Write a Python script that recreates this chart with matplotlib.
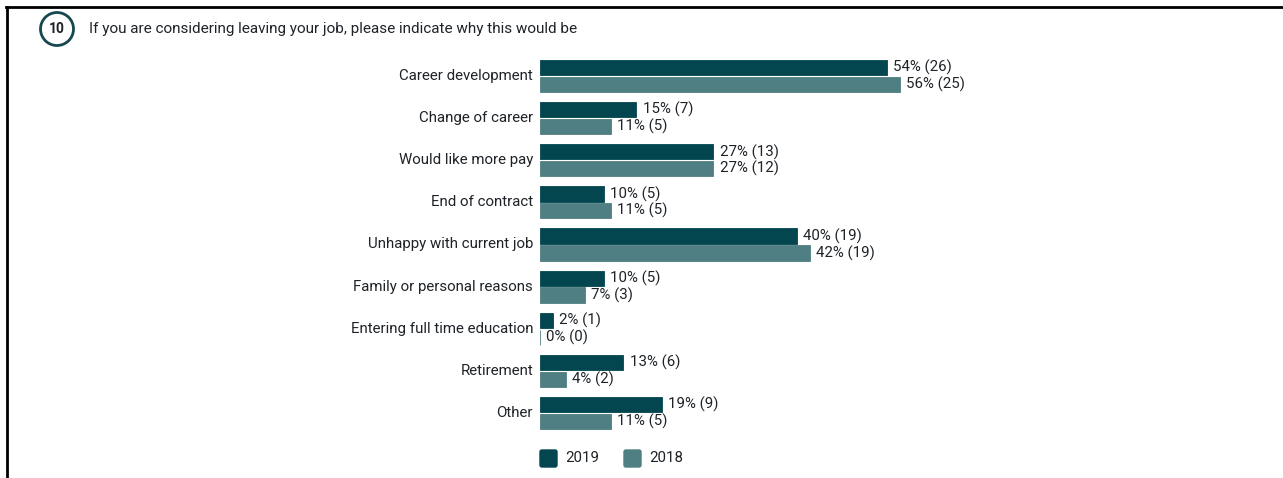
import matplotlib
matplotlib.use("Agg")
import matplotlib.pyplot as plt
from matplotlib.patches import Ellipse, FancyBboxPatch
import numpy as np

plt.rcParams['font.family'] = ['Roboto', 'DejaVu Sans']

categories = [
    "Career development",
    "Change of career",
    "Would like more pay",
    "End of contract",
    "Unhappy with current job",
    "Family or personal reasons",
    "Entering full time education",
    "Retirement",
    "Other",
]
pct_2019 = [54, 15, 27, 10, 40, 10, 2, 13, 19]
n_2019 = [26, 7, 13, 5, 19, 5, 1, 6, 9]
pct_2018 = [56, 11, 27, 11, 42, 7, 0, 4, 11]
n_2018 = [25, 5, 12, 5, 19, 3, 0, 2, 5]
series_labels = ["2019", "2018"]

question_number = "10"
question_text = "If you are considering leaving your job, please indicate why this would be"

c2019 = "#03464f"
c2018 = "#507f83"
text_color = "#1e2328"
fs = 10.8

W, H = 1283, 478
fig = plt.figure(figsize=(W / 100, H / 100), dpi=100)

# frame lines along the top and left edge
fig.add_artist(plt.Line2D([6 / W, 1.0], [1 - 7 / H, 1 - 7 / H], color="black", lw=2))
fig.add_artist(plt.Line2D([7 / W, 7 / W], [0, 1 - 7 / H], color="black", lw=2))

# numbered badge and question text
fig.add_artist(Ellipse((57 / W, 1 - 29 / H), 33 / W, 33 / H, transform=fig.transFigure,
                       facecolor="white", edgecolor="#16484f", lw=2))
fig.text(57 / W, 1 - 29 / H, question_number, ha="center", va="center",
         fontsize=10, fontweight="bold", color=text_color)
fig.text(89 / W, 1 - 29 / H, question_text, ha="left", va="center",
         fontsize=11, color=text_color)

# bar area
ax_left, ax_right = 540, 1182
ax_top, ax_bottom = 55, 434
ax = fig.add_axes([ax_left / W, 1 - ax_bottom / H,
                   (ax_right - ax_left) / W, (ax_bottom - ax_top) / H])
y = np.arange(len(categories))
off = 0.2
bh = 0.36
ax.barh(y - off, pct_2019, height=bh, color=c2019,
        edgecolor=c2019, linewidth=0.6)
ax.barh(y + off, pct_2018, height=bh, color=c2018,
        edgecolor=c2018, linewidth=0.6)
ax.set_xlim(0, 100)
ax.set_ylim(len(categories) - 0.5, -0.5)
ax.axis("off")

for i, cat in enumerate(categories):
    ax.annotate(cat, (0, i), xytext=(-5, 0), textcoords="offset points",
                ha="right", va="center", fontsize=fs, color=text_color)
    ax.annotate(f"{pct_2019[i]}% ({n_2019[i]})", (pct_2019[i], i - off),
                xytext=(4.5, 0), textcoords="offset points",
                ha="left", va="center", fontsize=fs, color=text_color)
    ax.annotate(f"{pct_2018[i]}% ({n_2018[i]})", (pct_2018[i], i + off),
                xytext=(4.5, 0), textcoords="offset points",
                ha="left", va="center", fontsize=fs, color=text_color)

# legend
for (x0, col, lab) in [(540, c2019, series_labels[0]), (624, c2018, series_labels[1])]:
    fig.add_artist(FancyBboxPatch((x0 / W, 1 - 467 / H), 17 / W, 17 / H,
                                  boxstyle="round,pad=0,rounding_size=0.0015",
                                  transform=fig.transFigure, facecolor=col,
                                  edgecolor=col, mutation_aspect=W / H))
    fig.text((x0 + 25) / W, 1 - 458 / H, lab, ha="left", va="center",
             fontsize=fs, color=text_color)

fig.savefig("out.png", dpi=100)
